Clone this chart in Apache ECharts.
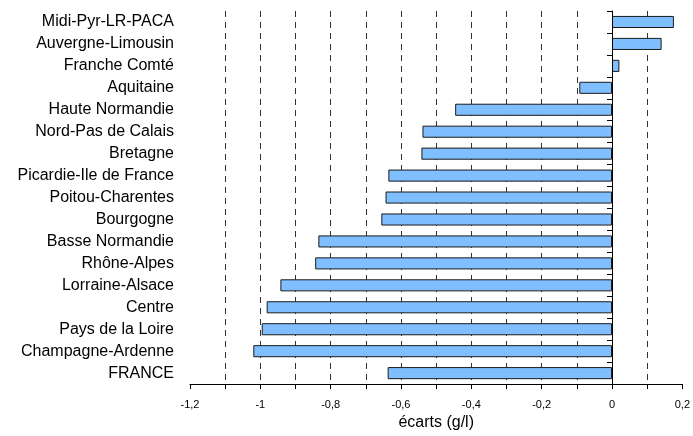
<!DOCTYPE html>
<html><head><meta charset="utf-8">
<script src="https://cdn.jsdelivr.net/npm/echarts@6/dist/echarts.min.js"></script>
<style>html,body{margin:0;padding:0;background:#fff;overflow:hidden}#c{width:693px;height:436px}</style>
</head><body><div id="c"></div>
<script>
const categories = ["Midi-Pyr-LR-PACA","Auvergne-Limousin","Franche Comté","Aquitaine","Haute Normandie","Nord-Pas de Calais","Bretagne","Picardie-Ile de France","Poitou-Charentes","Bourgogne","Basse Normandie","Rhône-Alpes","Lorraine-Alsace","Centre","Pays de la Loire","Champagne-Ardenne","FRANCE"];
const ecarts = [0.176,0.141,0.021,-0.093,-0.446,-0.539,-0.542,-0.636,-0.644,-0.656,-0.835,-0.844,-0.943,-0.982,-0.996,-1.020,-0.638];
const axisName = "écarts (g/l)";
const xMin = -1.2, xMax = 0.2, xStep = 0.2;

const chart = echarts.init(document.getElementById('c'), null, {renderer:'canvas', width:693, height:436});
const font = 'Liberation Sans, Arial, sans-serif';
chart.setOption({
  animation:false,
  grid:{left:190, right:6.5, top:11, bottom:49, containLabel:false},
  xAxis:{
    type:'value', min:xMin, max:xMax, interval:xStep,
    name:axisName, nameLocation:'middle', nameGap:29,
    nameTextStyle:{fontFamily:font, fontSize:16, color:'#000'},
    axisLine:{show:true, onZero:false, lineStyle:{color:'#000', width:1}},
    axisTick:{show:true, length:5, lineStyle:{color:'#000'}},
    minorTick:{show:true, splitNumber:2, length:5, lineStyle:{color:'#000'}},
    axisLabel:{fontFamily:font, fontSize:11, color:'#000', margin:15,
      formatter:v=>String(Math.round(v*10)/10).replace('.',',')},
    splitLine:{show:true, lineStyle:{color:['transparent','#333','#333','#333','#333','#333','transparent','transparent'], type:[6,5], width:1}},
    minorSplitLine:{show:true, lineStyle:{color:'#333', type:[6,5], width:1}}
  },
  yAxis:{
    type:'category', data:categories, inverse:true,
    axisLine:{show:true, lineStyle:{color:'#000'}},
    axisTick:{show:true, length:5, lineStyle:{color:'#000'}},
    axisLabel:{fontFamily:font, fontSize:16, color:'#000', margin:16, padding:[3,0,0,0]}
  },
  series:[{
    type:'bar', data:ecarts, barCategoryGap:'45%',
    itemStyle:{color:'#80BFFF', borderColor:'#1a1a1a', borderWidth:1},
    markLine:{symbol:'none', silent:true, label:{show:false},
      lineStyle:{color:'#000', type:'solid', width:1},
      data:[{xAxis:0}]}
  }]
});
</script></body></html>
